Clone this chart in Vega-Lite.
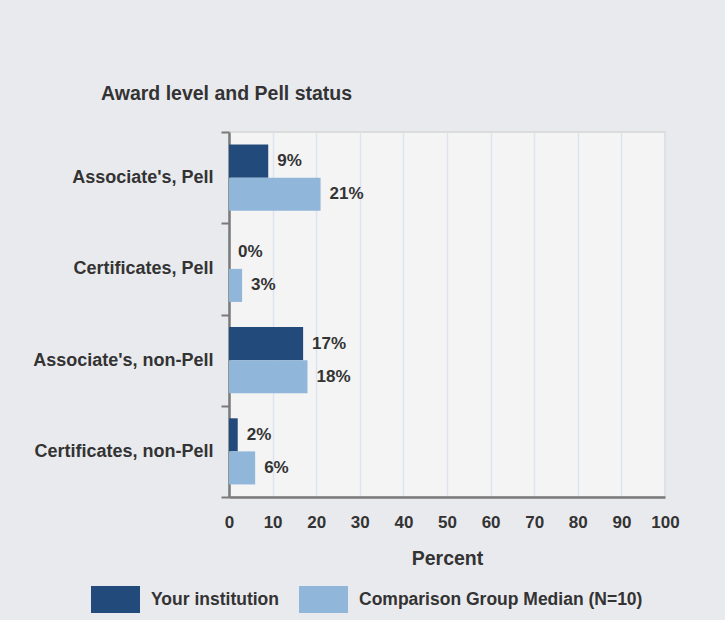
{
  "$schema": "https://vega.github.io/schema/vega-lite/v6.json",
  "width": 436,
  "height": 365,
  "autosize": {"type": "none"},
  "padding": {"left": 229, "top": 132, "right": 60, "bottom": 123},
  "background": "#e9eaee",
  "title": {
    "text": "Award level and Pell status",
    "anchor": "start",
    "frame": "group",
    "dx": -128,
    "offset": 19,
    "fontSize": 19.5,
    "font": "Liberation Sans",
    "fontWeight": "bold",
    "color": "#333333"
  },
  "config": {
    "view": {"fill": "#f4f4f4", "stroke": "#d6d6d6", "strokeWidth": 1.5},
    "font": "Liberation Sans"
  },
  "data": {
    "values": [
      {"category": "Associate's, Pell", "series": "Your institution", "value": 9, "label": "9%"},
      {"category": "Associate's, Pell", "series": "Comparison Group Median (N=10)", "value": 21, "label": "21%"},
      {"category": "Certificates, Pell", "series": "Your institution", "value": 0, "label": "0%"},
      {"category": "Certificates, Pell", "series": "Comparison Group Median (N=10)", "value": 3, "label": "3%"},
      {"category": "Associate's, non-Pell", "series": "Your institution", "value": 17, "label": "17%"},
      {"category": "Associate's, non-Pell", "series": "Comparison Group Median (N=10)", "value": 18, "label": "18%"},
      {"category": "Certificates, non-Pell", "series": "Your institution", "value": 2, "label": "2%"},
      {"category": "Certificates, non-Pell", "series": "Comparison Group Median (N=10)", "value": 6, "label": "6%"}
    ]
  },
  "encoding": {
    "y": {
      "field": "category",
      "type": "nominal",
      "sort": ["Associate's, Pell", "Certificates, Pell", "Associate's, non-Pell", "Certificates, non-Pell"],
      "scale": {"paddingInner": 0, "paddingOuter": 0},
      "axis": {
        "title": null,
        "tickBand": "extent",
        "domainColor": "#7a7a7a",
        "domainWidth": 2.5,
        "tickColor": "#7a7a7a",
        "tickWidth": 2,
        "tickSize": 8,
        "labelPadding": 8,
        "labelFont": "Liberation Sans",
        "labelFontSize": 18,
        "labelFontWeight": "bold",
        "labelColor": "#333333",
        "labelLimit": 300
      }
    },
    "yOffset": {
      "field": "series",
      "sort": ["Your institution", "Comparison Group Median (N=10)"],
      "scale": {"paddingInner": 0, "paddingOuter": 0.38}
    },
    "x": {
      "field": "value",
      "type": "quantitative",
      "scale": {"domain": [0, 100]},
      "axis": {
        "title": "Percent",
        "values": [0, 10, 20, 30, 40, 50, 60, 70, 80, 90, 100],
        "grid": true,
        "gridColor": "#dde4ee",
        "gridWidth": 1.5,
        "ticks": false,
        "labelFlush": false,
        "domainColor": "#7a7a7a",
        "domainWidth": 2.5,
        "labelPadding": 17,
        "labelFont": "Liberation Sans",
        "labelFontSize": 17,
        "labelFontWeight": "bold",
        "labelColor": "#333333",
        "titleFont": "Liberation Sans",
        "titleFontSize": 19.5,
        "titleFontWeight": "bold",
        "titleColor": "#333333",
        "titlePadding": 19
      }
    }
  },
  "layer": [
    {
      "mark": {"type": "bar"},
      "encoding": {
        "color": {
          "field": "series",
          "type": "nominal",
          "sort": ["Your institution", "Comparison Group Median (N=10)"],
          "scale": {
            "domain": ["Your institution", "Comparison Group Median (N=10)"],
            "range": ["#224a7a", "#90b6da"]
          },
          "legend": {
            "title": null,
            "orient": "none",
            "legendX": -138,
            "legendY": 443,
            "padding": 0,
            "direction": "horizontal",
            "symbolType": "M-1,-0.55 H1 V0.55 H-1 Z",
            "symbolSize": 2401,
            "symbolStrokeWidth": 0,
            "symbolOpacity": 1,
            "labelFont": "Liberation Sans",
            "labelFontSize": 17.5,
            "labelFontWeight": "bold",
            "labelColor": "#333333",
            "labelOffset": 11,
            "columnPadding": 20,
            "labelLimit": 400
          }
        }
      }
    },
    {
      "mark": {
        "type": "text",
        "align": "left",
        "baseline": "middle",
        "dx": 9,
        "font": "Liberation Sans",
        "fontSize": 17,
        "fontWeight": "bold",
        "color": "#333333"
      },
      "encoding": {"text": {"field": "label"}}
    }
  ]
}
